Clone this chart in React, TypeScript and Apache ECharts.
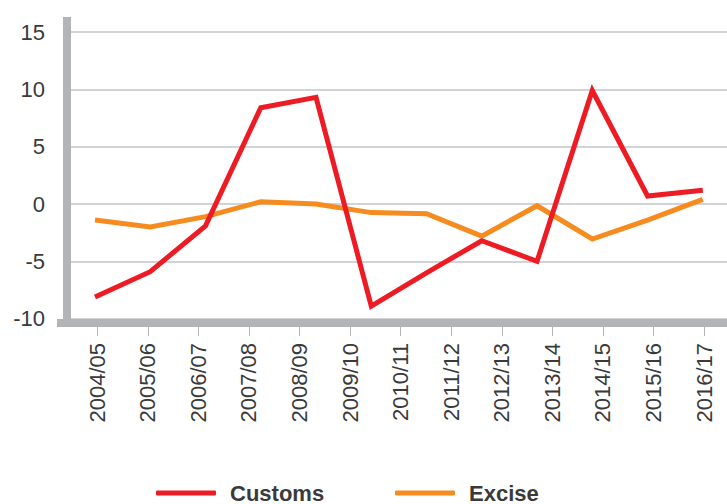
import React, { useEffect, useRef } from "react";
import * as echarts from "echarts";

const categories = [
  "2004/05", "2005/06", "2006/07", "2007/08", "2008/09", "2009/10", "2010/11",
  "2011/12", "2012/13", "2013/14", "2014/15", "2015/16", "2016/17",
];
// 12 plotted growth observations (spread across the 13-label axis in the original)
const pointCategories = categories.slice(1);
const customs = [-8.1, -5.9, -1.9, 8.4, 9.3, -8.9, -6.0, -3.2, -5.0, 9.9, 0.7, 1.2];
const excise = [-1.4, -2.0, -1.1, 0.2, 0.0, -0.75, -0.85, -2.8, -0.15, -3.05, -1.4, 0.4];
const yMin = -10;
const yMax = 15;
const yStep = 5;

const FONT = "'Liberation Sans', Arial, sans-serif";
const TEXT = "#3a3a3a";
const AXIS_GRAY = "#b2b4b6";
const GRID_GRAY = "#c3c4c6";
const RED = "#ed1c24";
const ORANGE = "#f68b1f";

export default function App() {
  const ref = useRef<HTMLDivElement>(null);
  useEffect(() => {
    if (!ref.current) return;
    const chart = echarts.init(ref.current, null, { renderer: "svg" });
    const plotTop = 32;
    const plotH = 286.7;
    chart.setOption({
      animation: false,
      backgroundColor: "#ffffff",
      grid: [
        { left: 67, right: 0, top: plotTop, height: plotH },
        { left: 95, right: 24.2, top: plotTop, height: plotH },
        { left: 67, right: 0, top: 17, height: 310 },
        { left: 57, right: 0, top: 100, height: 223 },
        { left: 97.3, right: 23, top: 100, height: 227 },
      ],
      xAxis: [
        { gridIndex: 0, type: "category", data: categories, show: false },
        { gridIndex: 1, type: "category", data: pointCategories, boundaryGap: false, show: false },
        { gridIndex: 2, type: "category", data: categories, show: false },
        {
          gridIndex: 3, type: "category", data: categories,
          axisLine: { show: true, lineStyle: { color: AXIS_GRAY, width: 8, cap: "butt" } },
          axisTick: { show: false }, axisLabel: { show: false }, splitLine: { show: false },
        },
        {
          gridIndex: 4, type: "category", data: categories, boundaryGap: false,
          axisLine: { show: false },
          axisTick: { show: true, length: 9, lineStyle: { color: AXIS_GRAY, width: 1 } },
          axisLabel: {
            rotate: 90, margin: 16, interval: 0,
            fontFamily: FONT, fontSize: 22, color: TEXT,
          },
          splitLine: { show: false },
        },
      ],
      yAxis: [
        {
          gridIndex: 0, type: "value", min: yMin, max: yMax, interval: yStep,
          axisLine: { show: false }, axisTick: { show: false },
          axisLabel: { margin: 22, fontFamily: FONT, fontSize: 22, color: TEXT },
          splitLine: { show: true, lineStyle: { color: GRID_GRAY, width: 1.5 } },
        },
        { gridIndex: 1, type: "value", min: yMin, max: yMax, show: false },
        {
          gridIndex: 2, type: "value", min: 0, max: 1,
          axisLine: { show: true, lineStyle: { color: AXIS_GRAY, width: 8, cap: "butt" } },
          axisTick: { show: false }, axisLabel: { show: false }, splitLine: { show: false },
        },
        { gridIndex: 3, type: "value", show: false },
        { gridIndex: 4, type: "value", show: false },
      ],
      legend: [
        {
          data: ["Customs"], left: 156, top: 482, padding: 0,
          icon: "roundRect", itemWidth: 60, itemHeight: 5,
          textStyle: { fontFamily: FONT, fontSize: 22, fontWeight: "bold", color: TEXT, padding: [0, 0, 0, 9] },
        },
        {
          data: ["Excise"], left: 395, top: 482, padding: 0,
          icon: "roundRect", itemWidth: 60, itemHeight: 5,
          textStyle: { fontFamily: FONT, fontSize: 22, fontWeight: "bold", color: TEXT, padding: [0, 0, 0, 9] },
        },
      ],
      series: [
        {
          name: "Customs", type: "line", xAxisIndex: 1, yAxisIndex: 1, data: customs,
          symbol: "none", z: 4, color: RED,
          lineStyle: { width: 5, color: RED, join: "miter" },
        },
        {
          name: "Excise", type: "line", xAxisIndex: 1, yAxisIndex: 1, data: excise,
          symbol: "none", z: 3, color: ORANGE,
          lineStyle: { width: 5, color: ORANGE, join: "miter" },
        },
      ],
    });
    return () => chart.dispose();
  }, []);
  return (
    <div
      ref={ref}
      style={{ position: "fixed", left: 0, top: 0, width: 727, height: 504 }}
    />
  );
}
